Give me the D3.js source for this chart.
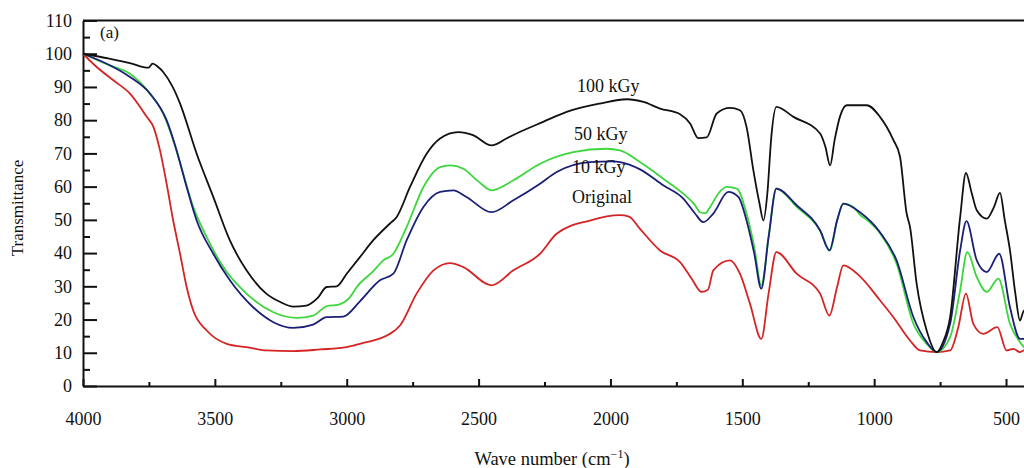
<!DOCTYPE html>
<html>
<head>
<meta charset="utf-8">
<script src="https://cdn.jsdelivr.net/npm/d3@7"></script>
<style>
  body { margin: 0; background: #fff; }
  svg text { font-family: "Liberation Serif", "Times New Roman", serif; fill: #111; }
  .axis path, .axis line { stroke: #111; }
  .axis path { stroke-width: 2; }
  .axis line { stroke-width: 2; }
</style>
</head>
<body>
<div id="chart"></div>
<script>
// FTIR spectra, transmittance vs wave number
let xTicks = [4000, 3500, 3000, 2500, 2000, 1500, 1000, 500];
let yTicks = [0, 10, 20, 30, 40, 50, 60, 70, 80, 90, 100, 110];

let original = [[4000,100],[3948,96],[3885,92],[3822,88],[3758,81],[3733,78],[3708,70.9],[3683,60.9],[3658,49.8],[3632,39.8],[3607,29.8],[3582,22.7],[3531,16.7],[3455,12.7],[3380,11.7],[3304,10.7],[3203,10.5],[3101,11],[3000,11.7],[2950,12.7],[2836,15.7],[2798,18.2],[2735,27.8],[2671,34.8],[2608,37],[2558,35.8],[2451,30.3],[2368,34.8],[2267,39.8],[2204,45.8],[2078,49.8],[1964,51.4],[1930,51],[1888,47.3],[1812,40.8],[1736,37.3],[1692,32.3],[1654,28.3],[1630,29],[1610,34.8],[1547,37.8],[1509,33.8],[1471,24.8],[1428,14.2],[1400,28],[1371,40.3],[1294,33.8],[1205,27.8],[1170,21.2],[1140,30],[1117,36.3],[1054,33],[978,25.8],[927,20.7],[864,13.7],[826,10.7],[763,10.2],[712,10.7],[681,17.7],[652,27.8],[624,18.7],[586,15.7],[533,17.7],[498,10.7],[472,11.2],[447,10.2],[432,10.7],[420,10.5]];

let kGy10 = [[4000,100],[3885,96],[3822,93],[3746,88],[3683,80],[3645,70.9],[3607,59.9],[3569,49.8],[3506,39.8],[3443,31.8],[3355,23.7],[3278,19.2],[3203,17.5],[3127,18.5],[3076,20.7],[3013,20.9],[2950,25.5],[2874,31.8],[2823,33.8],[2773,43.8],[2709,53.9],[2646,58.4],[2596,58.9],[2546,56.9],[2451,52.3],[2368,55.9],[2267,60.9],[2204,64.4],[2078,67.4],[1989,67.6],[1964,67.4],[1888,65.2],[1800,60.4],[1724,56.4],[1680,52],[1648,49.3],[1610,51.9],[1553,58.4],[1515,56.9],[1484,49.8],[1455,40],[1428,29.3],[1400,45],[1371,59.4],[1294,54.4],[1205,46.8],[1170,40.8],[1140,50],[1117,54.9],[1054,52.3],[978,46.3],[915,37.8],[851,20.7],[801,13.2],[763,10.2],[712,18.7],[674,40.8],[650,49.6],[611,37.8],[573,34.3],[526,39.8],[485,23.7],[447,14.2],[432,14.2],[420,13.5]];

let kGy50 = [[4000,100],[3900,96.5],[3822,94],[3746,88],[3696,82],[3658,74],[3620,63.9],[3582,53.9],[3531,44.8],[3468,35.8],[3380,27.8],[3278,22.2],[3190,20.5],[3127,21.2],[3076,24],[3030,24.5],[2990,26.5],[2962,29.8],[2900,34.5],[2861,37.8],[2823,39.8],[2773,47.8],[2709,59.9],[2646,65.9],[2608,66.4],[2558,65.4],[2500,61.5],[2451,58.9],[2368,61.9],[2267,66.9],[2141,70.4],[2015,71.4],[1964,70.9],[1888,67.4],[1800,62.4],[1724,57.9],[1680,54.5],[1660,52.3],[1640,52],[1622,53.9],[1590,58],[1559,59.9],[1521,59.4],[1484,51.9],[1455,42],[1428,30.3],[1400,45],[1371,59.4],[1294,53.9],[1205,46.8],[1167,40.8],[1140,50],[1117,54.9],[1079,53.9],[1054,51.5],[1028,50],[978,46],[915,36.8],[851,18.7],[801,12.7],[763,10.2],[712,14.7],[674,28.8],[647,40.3],[611,32.8],[573,28.3],[529,32.3],[485,18.7],[447,13.2],[432,11.7],[420,11]];

let kGy100 = [[4000,100],[3900,98.5],[3822,97.2],[3752,95.8],[3736,97],[3715,96],[3696,94.5],[3660,90],[3632,85],[3569,69.9],[3506,56.9],[3443,43.8],[3380,34.8],[3305,27.8],[3250,25.2],[3203,23.9],[3153,24.2],[3110,26.5],[3076,29.8],[3038,30],[3000,33.8],[2950,38.8],[2900,43.8],[2836,48.9],[2811,50.8],[2760,59.9],[2697,69.9],[2646,74.5],[2577,76.4],[2521,75.5],[2451,72.4],[2394,74.5],[2356,76],[2255,79.5],[2166,82.5],[2040,85],[1938,86.3],[1875,85.5],[1812,83.5],[1736,81.8],[1698,79],[1667,74.6],[1635,74.8],[1597,82],[1547,83.7],[1509,83],[1484,78],[1458,64.9],[1435,55],[1420,49.8],[1405,58],[1390,75],[1371,84],[1306,81],[1205,76],[1185,72],[1167,66.4],[1150,74],[1130,81],[1104,84.5],[1028,84.5],[978,81],[927,74],[902,69],[877,52],[864,47.8],[839,30.8],[801,16.7],[763,10.2],[740,13],[712,20.7],[674,50.8],[652,64.1],[630,58],[611,52.9],[573,50.4],[545,54],[523,58.1],[505,50],[485,40.8],[465,28],[447,19.7],[432,22.7],[420,20]];

let seriesNames = ["Original", "10 kGy", "50 kGy", "100 kGy"];
let seriesColors = ["#d42424", "#1c1f78", "#3dd63d", "#111111"];
let labelPos = [[2146, 55], [2146, 64], [2138, 73.9], [2127, 88.5]];
let drawOrder = [0, 2, 1, 3];
let allSeries = [original, kGy10, kGy50, kGy100];

let width = 1024;
let height = 468;

let x = d3.scaleLinear().domain([4000, 400]).range([83, 1032.4]);
let y = d3.scaleLinear().domain([0, 110]).range([386, 20.5]);

let svg = d3.select("#chart")
  .append("svg")
  .attr("width", width)
  .attr("height", height);

// top frame line
svg.append("line")
  .attr("x1", x(4000)).attr("x2", x(400))
  .attr("y1", y(110)).attr("y2", y(110))
  .attr("stroke", "#111")
  .attr("stroke-width", 2);

// minor ticks
svg.append("g")
  .attr("class", "axis")
  .attr("transform", "translate(0," + y(0) + ")")
  .call(d3.axisBottom(x).tickValues([3750, 3250, 2750, 2250, 1750, 1250, 750]).tickSizeInner(-4).tickSizeOuter(0).tickFormat(""))
  .select(".domain").remove();

svg.append("g")
  .attr("class", "axis")
  .attr("transform", "translate(" + x(4000) + ",0)")
  .call(d3.axisLeft(y).tickValues([5, 15, 25, 35, 45, 55, 65, 75, 85, 95, 105]).tickSizeInner(-7).tickSizeOuter(0).tickFormat(""))
  .select(".domain").remove();

// major axes
let xAxis = svg.append("g")
  .attr("class", "axis")
  .attr("transform", "translate(0," + y(0) + ")")
  .call(d3.axisBottom(x).tickValues(xTicks).tickSizeInner(-7).tickSizeOuter(0).tickPadding(26).tickFormat(d3.format("d")));
xAxis.selectAll("text").attr("font-size", 18);

let yAxis = svg.append("g")
  .attr("class", "axis")
  .attr("transform", "translate(" + x(4000) + ",0)")
  .call(d3.axisLeft(y).tickValues(yTicks).tickSizeInner(-14).tickSizeOuter(0).tickPadding(11).tickFormat(d3.format("d")));
yAxis.selectAll("text").attr("font-size", 18);

let line = d3.line()
  .x(d => x(d[0]))
  .y(d => y(d[1]))
  .curve(d3.curveMonotoneX);

drawOrder.forEach(function(i) {
  svg.append("path")
    .datum(allSeries[i])
    .attr("d", line)
    .attr("fill", "none")
    .attr("stroke", seriesColors[i])
    .attr("stroke-width", 1.8);
});

seriesNames.forEach(function(name, i) {
  svg.append("text")
    .attr("x", x(labelPos[i][0]))
    .attr("y", y(labelPos[i][1]))
    .attr("font-size", 18)
    .text(name);
});

svg.append("text")
  .attr("x", 100)
  .attr("y", 38)
  .attr("font-size", 17)
  .text("(a)");

svg.append("text")
  .attr("transform", "translate(23,208) rotate(-90)")
  .attr("text-anchor", "middle")
  .attr("font-size", 17)
  .text("Transmittance");

let xl = svg.append("text")
  .attr("x", 552)
  .attr("y", 465)
  .attr("text-anchor", "middle")
  .attr("font-size", 18.5);
xl.append("tspan").text("Wave number (cm");
xl.append("tspan").attr("dy", -7).attr("font-size", 12).text("\u22121");
xl.append("tspan").attr("dy", 7).text(")");
</script>
</body>
</html>
